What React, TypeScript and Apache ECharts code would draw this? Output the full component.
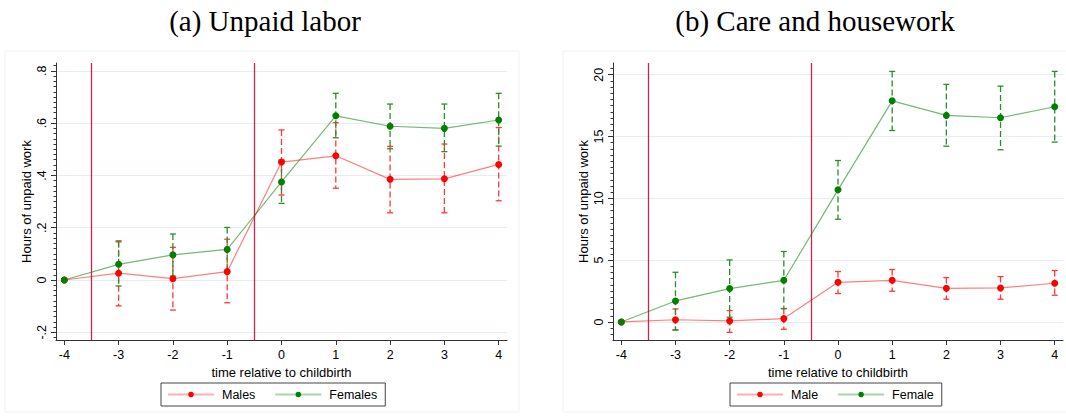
import React, { useEffect, useRef } from 'react';
import * as echarts from 'echarts';

// ---------- data ----------
const periods = [-4, -3, -2, -1, 0, 1, 2, 3, 4];
const childbirthLines = [-3.5, -0.5];

// Panel (a) Unpaid labor
const malesA = [0, 0.026, 0.005, 0.032, 0.451, 0.475, 0.385, 0.387, 0.442];
const malesALo = [null, -0.099, -0.115, -0.087, 0.325, 0.351, 0.257, 0.257, 0.303];
const malesAHi = [null, 0.15, 0.125, 0.156, 0.574, 0.602, 0.511, 0.52, 0.583];
const femalesA = [0, 0.06, 0.096, 0.117, 0.375, 0.628, 0.588, 0.58, 0.612];
const femalesALo = [null, -0.023, 0.015, 0.033, 0.293, 0.544, 0.502, 0.491, 0.512];
const femalesAHi = [null, 0.146, 0.176, 0.201, 0.459, 0.714, 0.673, 0.673, 0.714];
const yTicksA = [-0.2, 0, 0.2, 0.4, 0.6, 0.8];

// Panel (b) Care and housework
const maleB = [0, 0.18, 0.08, 0.27, 3.21, 3.37, 2.72, 2.75, 3.13];
const maleBLo = [null, -0.65, -0.84, -0.59, 2.3, 2.48, 1.84, 1.84, 2.16];
const maleBHi = [null, 1.05, 0.92, 1.08, 4.08, 4.24, 3.59, 3.67, 4.16];
const femaleB = [0, 1.7, 2.7, 3.37, 10.69, 17.89, 16.71, 16.52, 17.41];
const femaleBLo = [null, -0.65, 0.38, 1.08, 8.31, 15.49, 14.22, 13.93, 14.55];
const femaleBHi = [null, 4.02, 5.02, 5.7, 13.06, 20.27, 19.22, 19.08, 20.27];
const yTicksB = [0, 5, 10, 15, 20];

// ---------- style ----------
const FONT = "'Liberation Sans', Arial, sans-serif";
const SERIF = "'Liberation Serif', 'Times New Roman', serif";
const AXIS_COLOR = '#333';
const GRID_COLOR = '#e5eef0';
const RED = '#ff0000';
const RED_LINE = 'rgba(255,0,0,0.5)';
const RED_CI = '#ff3838';
const GREEN = '#008000';
const GREEN_LINE = 'rgba(0,128,0,0.55)';
const GREEN_CI = '#2a8f2a';
const CRIMSON = '#c8264f';
const X_MIN = -4.153;
const X_MAX = 4.153;

function minorList(from: number, to: number, step: number) {
  const out: number[] = [];
  const n = Math.round((to - from) / step);
  for (let i = 0; i <= n; i++) out.push(Math.round((from + i * step) * 1000) / 1000);
  return out;
}

function fmtA(v: number) {
  if (Math.abs(v) < 1e-9) return '0';
  const s = String(Math.round(v * 10) / 10);
  return s.replace(/^(-?)0\./, '$1.');
}

function xAxisFor(gridIndex: number) {
  return {
    type: 'value',
    gridIndex,
    min: X_MIN,
    max: X_MAX,
    name: 'time relative to childbirth',
    nameLocation: 'middle',
    nameGap: 21,
    nameTextStyle: { fontFamily: FONT, fontSize: 13, color: '#000' },
    axisLine: { show: true, onZero: false, lineStyle: { color: AXIS_COLOR, width: 1 } },
    axisTick: { show: true, customValues: periods, length: 5, lineStyle: { color: AXIS_COLOR } },
    axisLabel: {
      customValues: periods,
      margin: 8,
      fontFamily: FONT,
      fontSize: 12.5,
      color: '#000',
      formatter: (v: number) => String(v),
    },
    splitLine: { show: false },
  };
}

function yAxesFor(gridIndex: number, min: number, max: number, ticks: number[], minors: number[], fmt: (v: number) => string) {
  return [
    {
      type: 'value',
      gridIndex,
      min,
      max,
      position: 'left',
      name: 'Hours of unpaid work',
      nameLocation: 'middle',
      nameGap: 23,
      nameTextStyle: { fontFamily: FONT, fontSize: 13, color: '#000' },
      axisLine: { show: true, onZero: false, lineStyle: { color: AXIS_COLOR, width: 1 } },
      axisTick: { show: true, customValues: ticks, length: 5, lineStyle: { color: AXIS_COLOR } },
      axisLabel: {
        customValues: ticks,
        rotate: 90,
        margin: 8,
        fontFamily: FONT,
        fontSize: 12.5,
        color: '#000',
        formatter: fmt,
      },
      splitLine: { show: true, lineStyle: { color: GRID_COLOR, width: 1 } },
    },
    {
      type: 'value',
      gridIndex,
      min,
      max,
      position: 'left',
      axisLine: { show: false, onZero: false },
      axisTick: { show: true, customValues: minors, length: 2.5, lineStyle: { color: AXIS_COLOR } },
      axisLabel: { show: false },
      splitLine: { show: false },
    },
  ];
}

function lineSeries(name: string, vals: number[], xi: number, yi: number, color: string, lineColor: string, withMarkers: boolean) {
  const s: any = {
    type: 'line',
    name,
    xAxisIndex: xi,
    yAxisIndex: yi,
    data: periods.map((p, i) => [p, vals[i]]),
    symbol: 'circle',
    symbolSize: 7,
    itemStyle: { color },
    lineStyle: { color: lineColor, width: 1.2 },
    emphasis: { disabled: true },
    silent: true,
    z: 4,
  };
  if (withMarkers) {
    s.markLine = {
      silent: true,
      symbol: 'none',
      label: { show: false },
      lineStyle: { color: CRIMSON, width: 1.3, type: 'solid' },
      data: childbirthLines.map((v) => ({ xAxis: v })),
      z: 1,
    };
  }
  return s;
}

function ciSeries(name: string, lo: (number | null)[], hi: (number | null)[], xi: number, yi: number, color: string) {
  const data = periods
    .map((p, i) => (lo[i] == null || hi[i] == null ? null : [p, lo[i], hi[i]]))
    .filter((d) => d !== null);
  return {
    type: 'custom',
    name,
    xAxisIndex: xi,
    yAxisIndex: yi,
    data,
    encode: { x: 0, y: [1, 2] },
    silent: true,
    z: 3,
    renderItem: (params: any, api: any) => {
      const x = api.value(0);
      const pLo = api.coord([x, api.value(1)]);
      const pHi = api.coord([x, api.value(2)]);
      const hw = 3;
      const st = { stroke: color, lineWidth: 1.3 };
      return {
        type: 'group',
        children: [
          { type: 'line', shape: { x1: pHi[0], y1: pHi[1], x2: pLo[0], y2: pLo[1] }, style: { ...st, lineDash: [6, 3] } },
          { type: 'line', shape: { x1: pHi[0] - hw, y1: pHi[1], x2: pHi[0] + hw, y2: pHi[1] }, style: st },
          { type: 'line', shape: { x1: pLo[0] - hw, y1: pLo[1], x2: pLo[0] + hw, y2: pLo[1] }, style: st },
        ],
      };
    },
  };
}

function legendFor(left: number, names: string[]) {
  return {
    left,
    top: 383,
    orient: 'horizontal',
    selectedMode: false,
    data: [
      { name: names[0], itemStyle: { color: RED }, lineStyle: { color: '#ffb0b0', width: 2 } },
      { name: names[1], itemStyle: { color: GREEN }, lineStyle: { color: '#a9d5a9', width: 2 } },
    ],
    itemWidth: 46,
    itemHeight: 7,
    itemGap: 19,
    borderColor: '#444',
    borderWidth: 1,
    borderRadius: 0,
    padding: [5, 8, 5, 6],
    textStyle: { fontFamily: FONT, fontSize: 12.5, color: '#000', padding: [0, 0, 0, 3] },
  };
}

export default function App() {
  const ref = useRef<HTMLDivElement>(null);

  useEffect(() => {
    if (!ref.current) return;
    const chart = echarts.init(ref.current, null, { renderer: 'svg' });

    const option: any = {
      animation: false,
      backgroundColor: '#fff',
      grid: [
        { left: 56, top: 63, width: 451, height: 277 },
        { left: 613, top: 63, width: 450, height: 277 },
      ],
      xAxis: [xAxisFor(0), xAxisFor(1)],
      yAxis: [
        ...yAxesFor(0, -0.2295, 0.83, yTicksA, minorList(-0.22, 0.82, 0.02), fmtA),
        ...yAxesFor(1, -1.46, 20.95, yTicksB, minorList(-1, 20.5, 0.5), (v: number) => String(v)),
      ],
      legend: [legendFor(161, ['Males', 'Females']), legendFor(730, ['Male', 'Female'])],
      graphic: [
        { type: 'rect', shape: { x: 5, y: 51, width: 514, height: 361 }, style: { fill: 'none', stroke: '#edf1f3', lineWidth: 1 }, silent: true, z: -10 },
        { type: 'rect', shape: { x: 563, y: 51, width: 510, height: 361 }, style: { fill: 'none', stroke: '#edf1f3', lineWidth: 1 }, silent: true, z: -10 },
        {
          type: 'text',
          x: 265,
          y: 21,
          style: { text: '(a) Unpaid labor', font: `29px ${SERIF}`, fill: '#000', textAlign: 'center', textVerticalAlign: 'middle' },
          silent: true,
        },
        {
          type: 'text',
          x: 815,
          y: 21,
          style: { text: '(b) Care and housework', font: `29px ${SERIF}`, fill: '#000', textAlign: 'center', textVerticalAlign: 'middle' },
          silent: true,
        },
      ],
      series: [
        ciSeries('Males CI', malesALo, malesAHi, 0, 0, RED_CI),
        ciSeries('Females CI', femalesALo, femalesAHi, 0, 0, GREEN_CI),
        lineSeries('Males', malesA, 0, 0, RED, RED_LINE, true),
        lineSeries('Females', femalesA, 0, 0, GREEN, GREEN_LINE, false),
        ciSeries('Male CI', maleBLo, maleBHi, 1, 2, RED_CI),
        ciSeries('Female CI', femaleBLo, femaleBHi, 1, 2, GREEN_CI),
        lineSeries('Male', maleB, 1, 2, RED, RED_LINE, true),
        lineSeries('Female', femaleB, 1, 2, GREEN, GREEN_LINE, false),
      ],
    };

    chart.setOption(option);
    return () => chart.dispose();
  }, []);

  return <div ref={ref} style={{ position: 'fixed', left: 0, top: 0, width: 1066, height: 419 }} />;
}
